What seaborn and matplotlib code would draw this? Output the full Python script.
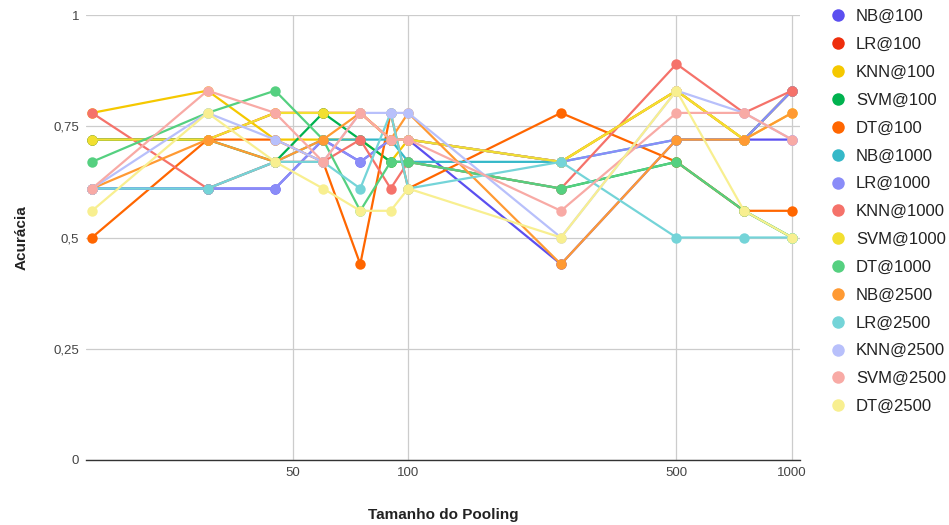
import numpy as np
import pandas as pd
import matplotlib
matplotlib.use("Agg")
import matplotlib.pyplot as plt
from matplotlib.lines import Line2D
from matplotlib.ticker import FixedLocator, NullLocator, FuncFormatter
import seaborn as sns

# pooling sizes (x) and accuracy per classifier@features
pool_sizes = [15, 30, 45, 60, 75, 90, 100, 250, 500, 750, 1000]

nb_100 = [0.61, 0.61, 0.61, 0.72, 0.67, 0.72, 0.72, 0.44, 0.72, 0.72, 0.72]
lr_100 = [0.72, 0.72, 0.78, 0.78, 0.78, 0.72, 0.72, 0.67, 0.83, 0.72, 0.83]
knn_100 = [0.78, 0.83, 0.72, 0.72, 0.72, 0.67, 0.72, 0.67, 0.83, 0.72, 0.83]
svm_100 = [0.72, 0.72, 0.67, 0.78, 0.72, 0.67, 0.67, 0.61, 0.67, 0.56, 0.50]
dt_100 = [0.50, 0.72, 0.72, 0.67, 0.44, 0.78, 0.61, 0.78, 0.67, 0.56, 0.56]
nb_1000 = [0.61, 0.61, 0.67, 0.72, 0.72, 0.72, 0.67, 0.67, 0.72, 0.72, 0.83]
lr_1000 = [0.61, 0.61, 0.61, 0.72, 0.67, 0.72, 0.72, 0.67, 0.72, 0.72, 0.83]
knn_1000 = [0.78, 0.61, 0.67, 0.67, 0.72, 0.61, 0.67, 0.61, 0.89, 0.78, 0.83]
svm_1000 = [0.72, 0.72, 0.78, 0.78, 0.78, 0.72, 0.72, 0.67, 0.83, 0.72, 0.78]
dt_1000 = [0.67, 0.78, 0.83, 0.72, 0.56, 0.67, 0.67, 0.61, 0.67, 0.56, 0.50]
nb_2500 = [0.61, 0.72, 0.67, 0.72, 0.78, 0.72, 0.78, 0.44, 0.72, 0.72, 0.78]
lr_2500 = [0.61, 0.61, 0.67, 0.67, 0.61, 0.78, 0.61, 0.67, 0.50, 0.50, 0.50]
knn_2500 = [0.61, 0.78, 0.72, 0.67, 0.78, 0.78, 0.78, 0.50, 0.83, 0.78, 0.72]
svm_2500 = [0.61, 0.83, 0.78, 0.67, 0.78, 0.72, 0.72, 0.56, 0.78, 0.78, 0.72]
dt_2500 = [0.56, 0.78, 0.67, 0.61, 0.56, 0.56, 0.61, 0.50, 0.83, 0.56, 0.50]

series = {
    "NB@100": nb_100, "LR@100": lr_100, "KNN@100": knn_100,
    "SVM@100": svm_100, "DT@100": dt_100,
    "NB@1000": nb_1000, "LR@1000": lr_1000, "KNN@1000": knn_1000,
    "SVM@1000": svm_1000, "DT@1000": dt_1000,
    "NB@2500": nb_2500, "LR@2500": lr_2500, "KNN@2500": knn_2500,
    "SVM@2500": svm_2500, "DT@2500": dt_2500,
}
colors = ["#5b4ff0", "#ee2e0c", "#f5c800", "#00b24f", "#ff6600",
          "#35b8c8", "#8a8cf8", "#f5726a", "#f2df30", "#55d080",
          "#ff9a33", "#74d4d8", "#b8c0fb", "#f8aaa5", "#f8ef90"]

rows = []
for name, vals in series.items():
    for x, v in zip(pool_sizes, vals):
        rows.append({"pool": x, "acc": v, "serie": name})
df = pd.DataFrame(rows)

sns.set_style("white")
plt.rcParams["font.family"] = ["Liberation Sans", "DejaVu Sans"]

fig = plt.figure(figsize=(9.49, 5.25), dpi=100)
ax = fig.add_axes([86 / 949, 1 - 460 / 525, 714 / 949, 445 / 525])

sns.lineplot(data=df, x="pool", y="acc", hue="serie", palette=colors,
             hue_order=list(series.keys()), marker="o", markersize=7.5,
             markeredgewidth=0, linewidth=1.6, legend=False, ax=ax,
             estimator=None, sort=False)

ax.set_xscale("log")
ax.set_xlim(14.47, 1049)
ax.set_ylim(0, 1)
ax.xaxis.set_major_locator(FixedLocator([50, 100, 500, 1000]))
ax.xaxis.set_minor_locator(NullLocator())
ax.xaxis.set_major_formatter(FuncFormatter(lambda v, p: f"{int(v)}"))
ax.set_yticks([0, 0.25, 0.5, 0.75, 1])
ax.yaxis.set_major_formatter(FuncFormatter(
    lambda v, p: ("%g" % v).replace(".", ",")))
ax.grid(True, color="#cccccc", linewidth=0.9)
ax.set_axisbelow(True)
for s in ["top", "right", "left"]:
    ax.spines[s].set_visible(False)
ax.spines["bottom"].set_color("#333333")
ax.spines["bottom"].set_linewidth(1.0)
ax.tick_params(axis="both", length=0, labelsize=9.5, labelcolor="#444444")
ax.tick_params(axis="x", pad=5)
ax.tick_params(axis="y", pad=5)

ax.set_xlabel("Tamanho do Pooling", fontsize=11, fontweight="bold",
              color="#222222", labelpad=21)
ax.set_ylabel("Acurácia", fontsize=11, fontweight="bold",
              color="#222222", labelpad=18)

handles = [Line2D([], [], linestyle="none", marker="o", markersize=9,
                  markerfacecolor=c, markeredgewidth=0) for c in colors]
fig.legend(handles, list(series.keys()), loc="upper left",
           bbox_to_anchor=(826 / 949, 1 - 6 / 525), frameon=False,
           fontsize=12, labelspacing=0.77, handlelength=1.0,
           handletextpad=0.6, borderaxespad=0, borderpad=0.2,
           labelcolor="#222222")

fig.savefig("out.png", dpi=100)
